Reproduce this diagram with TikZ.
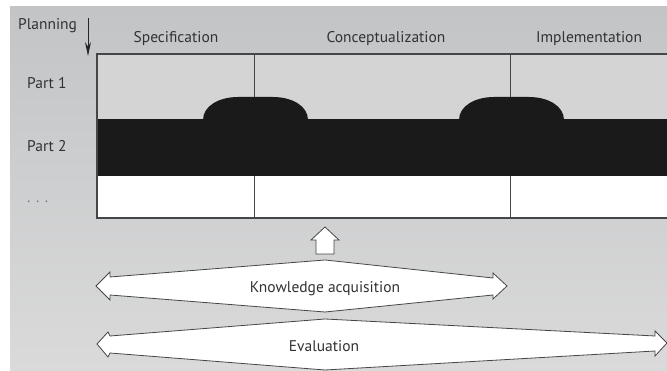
\documentclass[tikz,border=0pt]{standalone}
\usepackage{fontspec}
\setmainfont{PT Sans}
\usetikzlibrary{arrows.meta}
\definecolor{bgtop}{RGB}{194,196,198}
\definecolor{bgbot}{RGB}{218,218,218}
\definecolor{rowgray}{RGB}{212,212,212}
\definecolor{band}{RGB}{26,26,26}
\definecolor{ink}{RGB}{50,50,50}
\definecolor{edge}{RGB}{70,70,70}
\definecolor{dotgray}{RGB}{120,120,120}
\begin{document}
\begin{tikzpicture}[x=1pt,y=-1pt,
  lbl/.style={font=\fontsize{15.5}{17}\selectfont, text=ink, inner sep=0pt, anchor=base},
  blockarrow/.style={draw=edge, line width=0.8pt, fill=white, line join=miter},
  gridline/.style={draw=edge, line width=1pt},
  bump/.style={fill=band}]
\useasboundingbox (0,0) rectangle (667,371);
\fill[white] (0,0) rectangle (667,371);
\shade[top color=bgtop, bottom color=bgbot] (10,7) rectangle (667,371);
% table rows
\fill[rowgray] (97,54) rectangle (667,119);
\fill[white] (97,176) rectangle (667,218);
\fill[band] (97,119) rectangle (667,176);
% bumps
\fill[bump] (203,120) .. controls (203,106) and (219,97) .. (238,97) -- (273,97) .. controls (292,97) and (308,106) .. (308,120) -- cycle;
\fill[bump] (459,120) .. controls (459,106) and (475,97) .. (494,97) -- (529,97) .. controls (548,97) and (564,106) .. (564,120) -- cycle;
% column separators
\draw[gridline] (254,54) -- (254,97);
\draw[gridline] (254,176) -- (254,218);
\draw[gridline] (510,54) -- (510,97);
\draw[gridline] (510,176) -- (510,218);
% outer border
\draw[draw=edge, line width=1.3pt] (667,54) -- (97,54) -- (97,218) -- (667,218);
% planning arrow
\coordinate (pa) at (88,18);
\coordinate (pb) at (88,56);
\draw[-{Stealth[length=14pt,width=6pt]}, line width=1pt, black!85] (pa) -- (pb);
% labels
\node[lbl, anchor=base west] (planning) at (18,29.5) {Planning};
\node[lbl] (spec) at (176,43) {Specification};
\node[lbl] (conc) at (386,43) {Conceptualization};
\node[lbl] (impl) at (589,43) {Implementation};
\node[lbl, anchor=base west] (p1) at (27,89) {Part 1};
\node[lbl, anchor=base west] (p2) at (27,152) {Part 2};
\node[lbl, anchor=base west, text=dotgray] (dots) at (27,203) {. . .};
% up arrow
\draw[blockarrow] (325,227) -- (339,240) -- (334,240) -- (334,254) -- (316,254) -- (316,240) -- (311,240) -- cycle;
% knowledge acquisition
\draw[blockarrow] (96,286) -- (110,272) -- (110,277) -- (325,260) -- (493,278) -- (493,273) -- (507,286) -- (493,299) -- (493,295) -- (325,312) -- (110,295) -- (110,300) -- cycle;
% evaluation
\draw[blockarrow] (97,344) -- (108,332) -- (110,336) -- (325,319) -- (655,336) -- (655,331) -- (667,343) -- (655,356) -- (655,351) -- (325,370) -- (110,353) -- (108,357) -- cycle;
\node[lbl] (ka) at (325,293) {Knowledge acquisition};
\node[lbl] (ev) at (324,352) {Evaluation};
\end{tikzpicture}
\end{document}
